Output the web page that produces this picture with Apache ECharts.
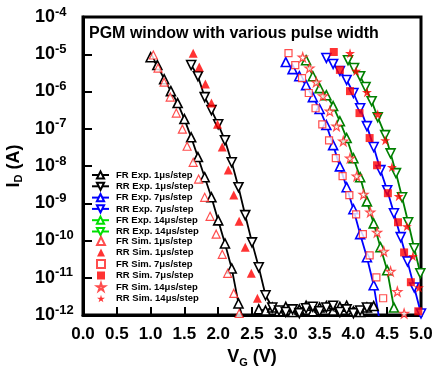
<!DOCTYPE html>
<html>
<head>
<meta charset="utf-8">
<script src="https://cdn.jsdelivr.net/npm/echarts@6/dist/echarts.min.js"></script>
<style>
  html, body { margin: 0; padding: 0; background: #fff; }
  #main { width: 433px; height: 371px; }
</style>
</head>
<body>
<div id="main"></div>
<script>
// gate voltage (V) and log10 of drain current (A)
const frExp1V = [1.0,1.1,1.2,1.3,1.4,1.5,1.6,1.7,1.8,1.9,2.0,2.1,2.2,2.3,2.4,2.5,2.6,2.7,2.8,2.9,3.0,3.1,3.2,3.3,3.4,3.5,3.6,3.7,3.8,3.9,4.0,4.1,4.2,4.3];
const frExp1Log = [-5.08,-5.29,-5.67,-5.99,-6.31,-6.74,-7.23,-7.76,-8.30,-8.84,-9.46,-10.08,-10.75,-11.69,-12.3,-12.3,-11.85,-11.88,-11.8,-11.9,-11.78,-11.92,-11.85,-11.75,-11.9,-11.8,-11.76,-11.88,-11.78,-11.75,-11.9,-11.92,-11.8,-11.76];
const rrExp1V = [1.6,1.7,1.8,1.9,2.0,2.1,2.2,2.3,2.4,2.5,2.6,2.7,2.8,2.9,3.0,3.1,3.2,3.3,3.4,3.5,3.6,3.7,3.8,3.9,4.0,4.1,4.2];
const rrExp1Log = [-5.29,-5.59,-6.15,-6.50,-6.88,-7.31,-7.90,-8.57,-9.32,-10.05,-10.72,-11.47,-11.8,-11.88,-11.92,-11.85,-11.95,-11.82,-11.78,-11.9,-11.8,-11.75,-11.92,-11.85,-11.95,-11.88,-11.8];
const frExp7V = [3.0,3.1,3.2,3.3,3.4,3.5,3.6,3.7,3.8,3.9,4.0,4.1,4.2,4.3,4.4];
const frExp7Log = [-5.21,-5.40,-5.59,-5.83,-6.15,-6.47,-6.90,-7.44,-8.01,-8.57,-9.16,-9.83,-10.45,-11.20,-12.3];
const rrExp7V = [3.6,3.7,3.8,3.9,4.0,4.1,4.2,4.3,4.4,4.5,4.6,4.7,4.8,4.9,5.0];
const rrExp7Log = [-5.10,-5.26,-5.45,-5.69,-6.04,-6.45,-6.93,-7.49,-8.11,-8.65,-9.27,-9.91,-10.56,-11.26,-11.96];
const frExp14V = [3.3,3.4,3.5,3.6,3.7,3.8,3.9,4.0,4.1,4.2,4.3,4.4,4.5,4.6];
const frExp14Log = [-5.16,-5.59,-5.91,-6.10,-6.39,-6.80,-7.25,-7.79,-8.30,-8.95,-9.54,-10.18,-10.80,-11.80];
const rrExp14V = [3.92,4.01,4.10,4.18,4.27,4.36,4.47,4.55,4.63,4.72,4.81,4.90,4.99];
const rrExp14Log = [-5.16,-5.37,-5.59,-5.88,-6.26,-6.69,-7.17,-7.66,-8.19,-8.84,-9.51,-10.21,-10.88];

const frSim1V = [1.04,1.11,1.20,1.29,1.38,1.47,1.54,1.63,1.71,1.80,1.88,1.97,2.06,2.14,2.23,2.31];
const frSim1Log = [-5.02,-5.37,-5.75,-6.15,-6.58,-7.01,-7.47,-7.90,-8.35,-8.84,-9.35,-9.83,-10.37,-10.88,-11.42,-11.96];
const rrSim1V = [1.63,1.72,1.81,1.90,1.99,2.06,2.15,2.23,2.31,2.40,2.49,2.58];
const rrSim1Log = [-4.97,-5.34,-5.80,-6.31,-6.88,-7.49,-8.11,-8.78,-9.48,-10.18,-10.88,-11.55];
const frSim7V = [3.04,3.14,3.24,3.34,3.44,3.54,3.64,3.74,3.84,3.94,4.04,4.14,4.24,4.34,4.44];
const frSim7Log = [-4.97,-5.29,-5.64,-6.04,-6.45,-6.88,-7.31,-7.79,-8.27,-8.78,-9.30,-9.83,-10.40,-10.99,-11.55];
const rrSim7V = [3.71,3.80,3.95,4.09,4.24,4.35,4.51,4.66,4.75,4.85,4.96];
const rrSim7Log = [-4.94,-5.42,-5.99,-6.58,-7.25,-7.98,-8.73,-9.51,-10.32,-11.12,-11.90];
const frSim14V = [3.25,3.35,3.45,3.55,3.65,3.75,3.85,3.95,4.05,4.15,4.25,4.35,4.45,4.55,4.65,4.75];
const frSim14Log = [-5.08,-5.37,-5.75,-6.12,-6.53,-6.93,-7.33,-7.79,-8.27,-8.76,-9.24,-9.78,-10.29,-10.83,-11.37,-11.96];
const rrSim14V = [3.95,4.04,4.20,4.36,4.47,4.57,4.67,4.79,4.88,4.97];
const rrSim14Log = [-4.97,-5.45,-6.02,-6.61,-7.31,-8.03,-8.81,-9.62,-10.42,-11.26];

const xTicks = [0.0,0.5,1.0,1.5,2.0,2.5,3.0,3.5,4.0,4.5,5.0];

const FONT = 'Liberation Sans, Arial, sans-serif';
const STAR = 'path://M50,0 L61,35 L98,35 L68,57 L79,91 L50,70 L21,91 L32,57 L2,35 L39,35 Z';

function pts(vs, logs) {
  return vs.map((v, i) => [v, Math.pow(10, logs[i])]);
}

function expLine(name, vs, logs, color, down) {
  return {
    name: name, type: 'line', data: pts(vs, logs),
    symbol: 'triangle', symbolSize: 9, symbolRotate: down ? 180 : 0,
    itemStyle: { color: '#fff', borderColor: color, borderWidth: 1.6 },
    lineStyle: { color: color, width: 1.8 },
    z: 3
  };
}

function simDots(name, vs, logs, symbol, size, filled) {
  return {
    name: name, type: 'scatter', data: pts(vs, logs),
    symbol: symbol, symbolSize: size,
    itemStyle: filled ? { color: '#ff0000' } : { color: '#fff', borderColor: '#ff2020', borderWidth: 1.2 },
    z: 4
  };
}

const expSeries = [
  expLine('FR Exp. 1μs/step', frExp1V, frExp1Log, '#000000', false),
  expLine('RR Exp. 1μs/step', rrExp1V, rrExp1Log, '#000000', true),
  expLine('FR Exp. 7μs/step', frExp7V, frExp7Log, '#0000ff', false),
  expLine('RR Exp. 7μs/step', rrExp7V, rrExp7Log, '#0000ff', true),
  expLine('FR Exp. 14μs/step', frExp14V, frExp14Log, '#008000', false),
  expLine('RR Exp. 14μs/step', rrExp14V, rrExp14Log, '#008000', true)
];
const simSeries = [
  simDots('FR Sim. 1μs/step', frSim1V, frSim1Log, 'triangle', 8, false),
  simDots('RR Sim. 1μs/step', rrSim1V, rrSim1Log, 'triangle', 9, true),
  simDots('FR Sim. 7μs/step', frSim7V, frSim7Log, 'rect', 7, false),
  simDots('RR Sim. 7μs/step', rrSim7V, rrSim7Log, 'rect', 8, true),
  simDots('FR Sim. 14μs/step', frSim14V, frSim14Log, STAR, 9, false),
  simDots('RR Sim. 14μs/step', rrSim14V, rrSim14Log, STAR, 10, true)
];

// legend uses a brighter green than the plotted lines
const expLegendData = expSeries.map(s => {
  const item = { name: s.name };
  if (s.name.indexOf('Exp. 14') >= 0) {
    item.itemStyle = { color: '#fff', borderColor: '#00e000' };
    item.lineStyle = { color: '#00e000' };
  }
  return item;
});

const legendText = { fontFamily: FONT, fontSize: 9.5, fontWeight: 'bold', color: '#000', lineHeight: 10 };

const chart = echarts.init(document.getElementById('main'));
chart.setOption({
  animation: false,
  backgroundColor: '#fff',
  textStyle: { fontFamily: FONT },
  title: {
    text: 'PGM window with various pulse width',
    left: 84, top: 21,
    textStyle: { fontFamily: FONT, fontSize: 16, fontWeight: 'bold', color: '#000' }
  },
  legend: [
    {
      orient: 'vertical', left: 86, top: 165,
      itemWidth: 17, itemHeight: 9, itemGap: 1.3,
      data: expLegendData,
      textStyle: Object.assign({ padding: [0, 0, 0, 2] }, legendText)
    },
    {
      orient: 'vertical', left: 91, top: 231,
      itemWidth: 8, itemHeight: 8, itemGap: 1.5,
      data: simSeries.map(s => s.name),
      textStyle: Object.assign({ padding: [0, 0, 0, 6] }, legendText)
    }
  ],
  grid: {
    left: 83, right: 12, top: 17, bottom: 56,
    outerBoundsMode: 'none', containLabel: false,
    show: true, borderColor: '#000', borderWidth: 3
  },
  xAxis: {
    type: 'value', min: 0, max: 5, interval: 0.5,
    name: '{b|V}{sub|G}{b| (V)}', nameLocation: 'middle', nameGap: 32,
    nameTextStyle: {
      rich: {
        b: { fontFamily: FONT, fontSize: 18, fontWeight: 'bold', color: '#000' },
        sub: { fontFamily: FONT, fontSize: 11, fontWeight: 'bold', color: '#000', padding: [10, 0, 0, 0] }
      }
    },
    axisLine: { lineStyle: { color: '#000', width: 3 } },
    axisTick: { inside: true, length: 8, lineStyle: { color: '#000', width: 2 } },
    splitLine: { show: false },
    axisLabel: {
      margin: 11, fontFamily: FONT, fontSize: 17, fontWeight: 'bold', color: '#000',
      formatter: v => xTicks.indexOf(v) >= 0 ? v.toFixed(1) : ''
    }
  },
  yAxis: {
    type: 'log', logBase: 10, min: 1e-12, max: 1e-4,
    name: '{b|I}{sub|D}{b| (A)}', nameLocation: 'middle', nameGap: 55, nameRotate: 90,
    nameTextStyle: {
      rich: {
        b: { fontFamily: FONT, fontSize: 18, fontWeight: 'bold', color: '#000' },
        sub: { fontFamily: FONT, fontSize: 11, fontWeight: 'bold', color: '#000', padding: [10, 0, 0, 0] }
      }
    },
    axisLine: { show: true, lineStyle: { color: '#000', width: 3 } },
    axisTick: { inside: true, length: 9, lineStyle: { color: '#000', width: 2 } },
    minorTick: { show: false },
    splitLine: { show: false },
    axisLabel: {
      margin: 48, align: 'left',
      formatter: v => '{b|10}{s|' + Math.round(Math.log10(v)) + '}',
      rich: {
        b: { fontFamily: FONT, fontSize: 18, fontWeight: 'bold', color: '#000' },
        s: { fontFamily: FONT, fontSize: 13, fontWeight: 'bold', color: '#000', padding: [0, 0, 10, 0] }
      }
    }
  },
  series: expSeries.concat(simSeries)
});
</script>
</body>
</html>
